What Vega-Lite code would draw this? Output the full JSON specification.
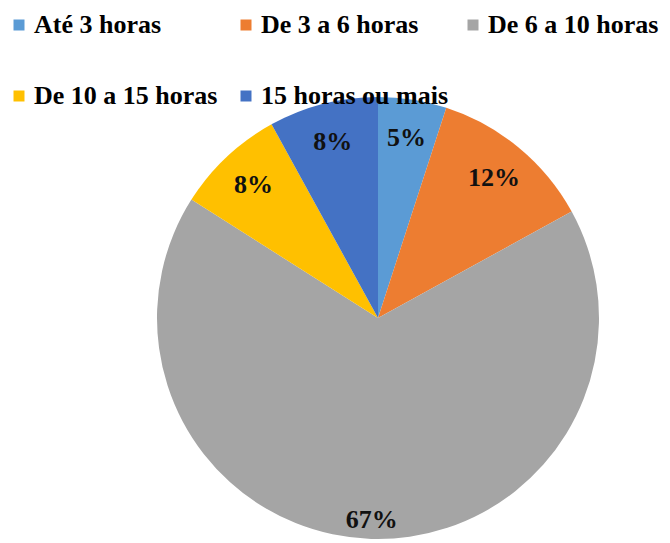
{
  "$schema": "https://vega.github.io/schema/vega-lite/v6.json",
  "width": 584,
  "height": 442,
  "autosize": {"type": "none"},
  "padding": {"left": 86, "top": 97, "right": 0, "bottom": 4},
  "background": "white",
  "config": {"view": {"stroke": null}, "font": "Liberation Serif"},
  "data": {
    "values": [
      {"ordem": 1, "categoria": "Até 3 horas", "pct": 0.05},
      {"ordem": 2, "categoria": "De 3 a 6 horas", "pct": 0.12},
      {"ordem": 3, "categoria": "De 6 a 10 horas", "pct": 0.67},
      {"ordem": 4, "categoria": "De 10 a 15 horas", "pct": 0.08},
      {"ordem": 5, "categoria": "15 horas ou mais", "pct": 0.08}
    ]
  },
  "encoding": {
    "theta": {"field": "pct", "type": "quantitative", "stack": true},
    "order": {"field": "ordem", "type": "quantitative"}
  },
  "layer": [
    {
      "mark": {"type": "arc", "outerRadius": 221},
      "encoding": {
        "color": {
          "field": "categoria",
          "type": "nominal",
          "scale": {
            "domain": ["Até 3 horas", "De 3 a 6 horas", "De 6 a 10 horas", "De 10 a 15 horas", "15 horas ou mais"],
            "range": ["#5B9BD5", "#ED7D31", "#A5A5A5", "#FFC000", "#4472C4"]
          },
          "legend": {
            "title": null,
            "orient": "none",
            "legendX": -80,
            "legendY": -85,
            "direction": "horizontal",
            "columns": 3,
            "gridAlign": "all",
            "columnPadding": 11,
            "rowPadding": 45,
            "padding": 0,
            "symbolType": "square",
            "symbolSize": 121,
            "symbolStrokeWidth": 0,
            "labelFont": "Liberation Serif",
            "labelFontWeight": "bold",
            "labelFontSize": 26,
            "labelColor": "#000000",
            "labelOffset": 2,
            "labelLimit": 400
          }
        }
      }
    },
    {
      "mark": {"type": "text", "radius": 182, "font": "Liberation Serif", "fontWeight": "bold", "fontSize": 26, "color": "#111111", "align": "center", "baseline": "middle"},
      "encoding": {
        "text": {"condition": {"test": "datum.pct < 0.5", "field": "pct", "type": "quantitative", "format": ".0%"}, "value": ""}
      }
    },
    {
      "mark": {"type": "text", "radius": 202, "font": "Liberation Serif", "fontWeight": "bold", "fontSize": 26, "color": "#111111", "align": "center", "baseline": "middle"},
      "encoding": {
        "text": {"condition": {"test": "datum.pct > 0.5", "field": "pct", "type": "quantitative", "format": ".0%"}, "value": ""}
      }
    }
  ]
}
